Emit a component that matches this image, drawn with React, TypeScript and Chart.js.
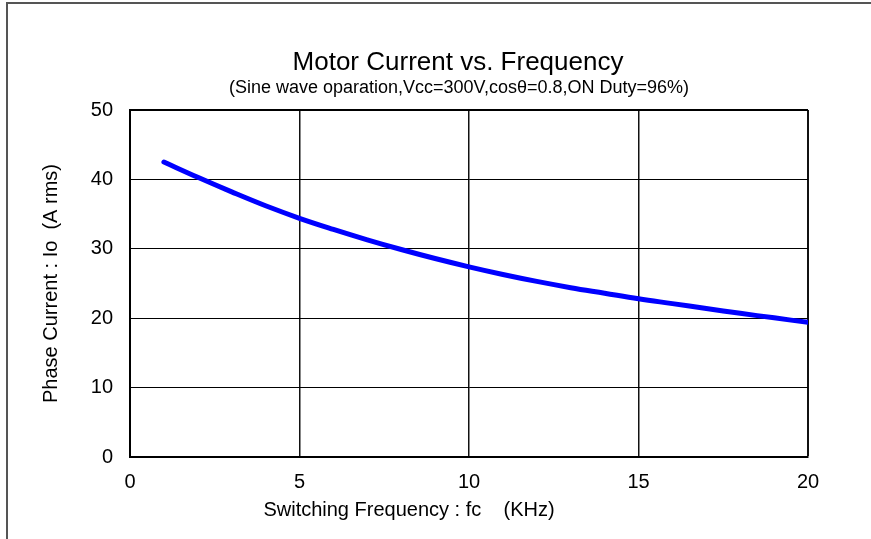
import React, { useEffect, useRef } from "react";
import { Chart, registerables } from "chart.js";

Chart.register(...registerables);

const frequencyKHz = [1, 2, 3, 4, 5, 6, 7, 8, 9, 10, 11, 12, 13, 14, 15, 16, 17, 18, 19, 20];
const phaseCurrentA = [42.5, 40.3, 38.2, 36.2, 34.4, 32.8, 31.3, 29.9, 28.6, 27.4, 26.3, 25.3, 24.4, 23.6, 22.8, 22.1, 21.4, 20.7, 20.05, 19.4];

const chartTitle = "Motor Current vs. Frequency";
const chartSubtitle = "(Sine wave oparation,Vcc=300V,cosθ=0.8,ON Duty=96%)";
const xAxisTitle = "Switching Frequency : fc    (KHz)";
const yAxisTitle = "Phase Current : Io  (A rms)";

const FONT = '"Liberation Sans", Arial, sans-serif';

const textPlugin = {
  id: "textPlugin",
  afterDraw(chart: any) {
    const ctx = chart.ctx;
    ctx.save();
    // outer frame
    ctx.strokeStyle = "#555";
    ctx.lineWidth = 2;
    ctx.beginPath();
    ctx.moveTo(7, 545);
    ctx.lineTo(7, 3);
    ctx.lineTo(880, 3);
    ctx.stroke();

    ctx.fillStyle = "#000";
    ctx.textAlign = "center";
    ctx.textBaseline = "alphabetic";
    ctx.font = `26px ${FONT}`;
    ctx.fillText(chartTitle, 458, 70);
    ctx.font = `18px ${FONT}`;
    ctx.fillText(chartSubtitle, 459, 93);
    ctx.font = `20px ${FONT}`;
    ctx.fillText(xAxisTitle, 409, 516);
    ctx.translate(57, 283.5);
    ctx.rotate(-Math.PI / 2);
    ctx.fillText(yAxisTitle, 0, 0);
    ctx.restore();
  },
};

export default function App() {
  const ref = useRef<HTMLCanvasElement | null>(null);
  useEffect(() => {
    if (!ref.current) return;
    const chart = new Chart(ref.current, {
      type: "line",
      data: {
        datasets: [
          {
            data: frequencyKHz.map((f, i) => ({ x: f, y: phaseCurrentA[i] })),
            borderColor: "#0000FF",
            borderWidth: 5,
            pointRadius: 0,
            tension: 0.4,
            borderCapStyle: "round",
            fill: false,
          },
        ],
      },
      options: {
        responsive: false,
        animation: false,
        devicePixelRatio: 1,
        layout: { padding: { left: 0, top: 110, right: 63, bottom: 0 } },
        plugins: { legend: { display: false }, tooltip: { enabled: false } },
        scales: {
          x: {
            type: "linear",
            min: 0,
            max: 20,
            afterFit: (s: any) => {
              s.height = 82;
            },
            ticks: {
              stepSize: 5,
              color: "#000",
              padding: 13,
              font: { family: FONT, size: 20 },
            },
            grid: {
              color: "#111",
              lineWidth: (c: any) => (c.tick && c.tick.value === 20 ? 2 : 1.5),
              drawTicks: false,
            },
            border: { color: "#000", width: 2 },
          },
          y: {
            min: 0,
            max: 50,
            afterFit: (s: any) => {
              s.width = 130;
            },
            ticks: {
              stepSize: 10,
              color: "#000",
              padding: 17,
              font: { family: FONT, size: 20 },
            },
            grid: {
              color: "#000",
              lineWidth: (c: any) => (c.tick && c.tick.value === 50 ? 2 : 1),
              drawTicks: false,
            },
            border: { color: "#000", width: 2 },
          },
        },
      },
      plugins: [textPlugin],
    });
    return () => chart.destroy();
  }, []);
  return (
    <div style={{ position: "absolute", left: 0, top: 0, width: 871, height: 539, background: "#fff" }}>
      <canvas ref={ref} width={871} height={539} />
    </div>
  );
}
